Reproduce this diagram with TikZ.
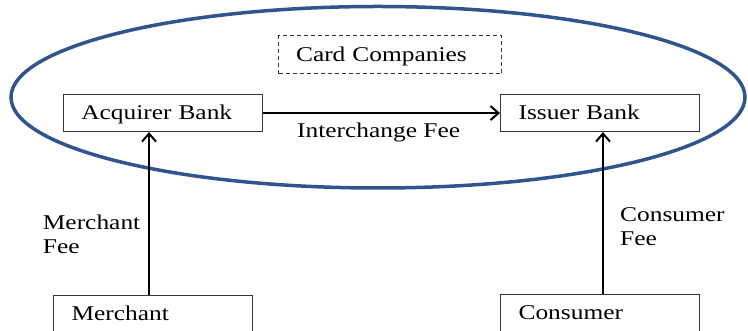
\documentclass[tikz,border=0pt]{standalone}
\usepackage{fontspec}
\setmainfont[FakeStretch=1.21]{Liberation Serif}
\usetikzlibrary{arrows.meta,calc}
\definecolor{ellblue}{RGB}{47,85,140}
\definecolor{boxgray}{RGB}{55,55,55}
\begin{document}
\begin{tikzpicture}[x=1pt,y=1pt,
  every node/.style={font=\fontsize{21}{24}\selectfont},
  bank/.style={draw=boxgray, line width=1.1pt, rectangle, minimum width=198pt, minimum height=37pt,
     text width=163pt, align=left, inner xsep=18pt, inner ysep=8pt, text height=17pt, text depth=4pt, anchor=north west},
  cardbox/.style={bank, dashed, dash pattern=on 4pt off 3pt, minimum width=223pt, text width=188pt, minimum height=38pt, inner xsep=17pt},
  lbl/.style={inner sep=0pt, align=left, anchor=north west},
  conn/.style={line width=2pt, -{Straight Barb[length=8pt,width=14pt,line width=2pt]}}]
\useasboundingbox (0,0) rectangle (748,331);
% ellipse
\draw[ellblue, line width=3.5pt] (378,233.75) ellipse [x radius=367, y radius=90.75];
% boxes (y = 331 - pixel y)
\node[cardbox] (card) at (278,296) {Card Companies};
\node[bank] (acq) at (62.7,237) {Acquirer Bank};
\node[bank] (iss) at (500,237) {Issuer Bank};
\node[bank] (mer) at (53,36) {Merchant};
\node[bank] (con) at (500,37) {Consumer};
% labels
\node[lbl] (ifee) at (297,208.5) {Interchange Fee};
\node[lbl] (mfee) at (42.7,116.3) {Merchant\\Fee};
\node[lbl] (cfee) at (620,123.3) {Consumer\\Fee};
% connectors
\coordinate (mx) at (149,0);
\coordinate (cx) at (603,0);
\draw[conn] (acq.east) -- (iss.west);
\draw[conn] (mer.north -| mx) -- (acq.south -| mx);
\draw[conn] (con.north -| cx) -- (iss.south -| cx);
\end{tikzpicture}
\end{document}
